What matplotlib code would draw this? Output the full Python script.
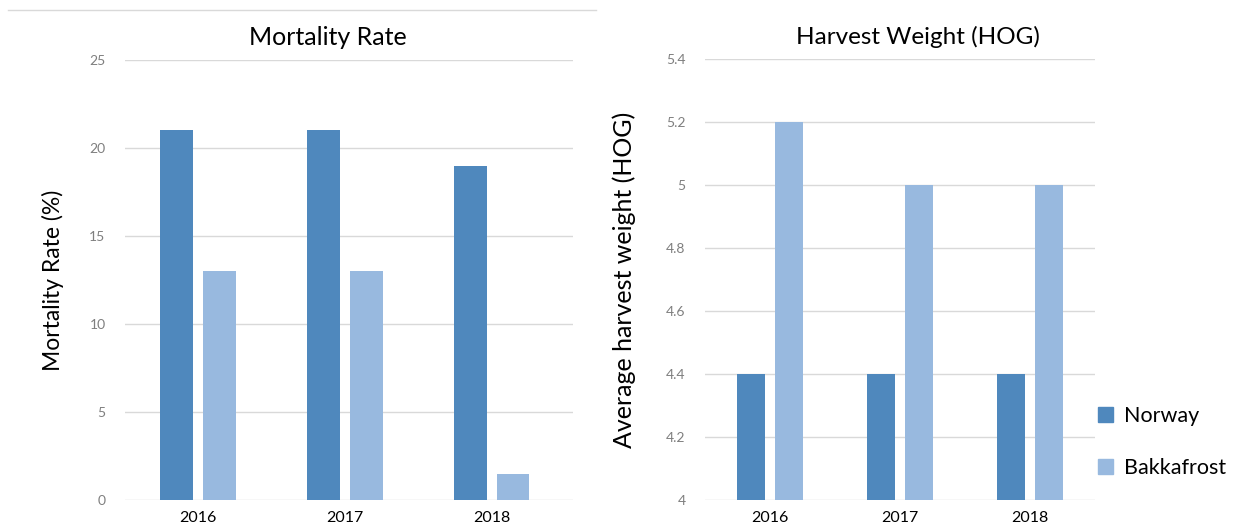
import numpy as np
import matplotlib.pyplot as plt
from matplotlib.patches import Patch
from matplotlib.lines import Line2D

# --- data ---
years = ['2016', '2017', '2018']
mortality_norway = [21, 21, 19]
mortality_bakkafrost = [13, 13, 1.5]
weight_norway = [4.4, 4.4, 4.4]
weight_bakkafrost = [5.2, 5.0, 5.0]

NORWAY = '#4F88BD'
BAKKA = '#98B9DF'
GRID = '#D9D9D9'
FONT = ['Lato', 'DejaVu Sans']

plt.rcParams['font.family'] = FONT

fig = plt.figure(figsize=(12.41, 5.31), dpi=100, facecolor='white')
W, H = 1241, 531


def px_axes(x0, x1, y_top, y_bot):
    return fig.add_axes([x0 / W, 1 - y_bot / H, (x1 - x0) / W, (y_bot - y_top) / H])


def style(ax, ymin, ymax, step, fmt, xlim):
    ticks = np.arange(ymin, ymax + step / 2, step)
    ax.set_ylim(ymin, ymax)
    ax.set_yticks(ticks)
    ax.set_yticklabels([fmt(t) for t in ticks], color='#7F7F7F', fontsize=10)
    ax.grid(axis='y', color=GRID, linewidth=1)
    ax.set_axisbelow(True)
    for s in ax.spines.values():
        s.set_visible(False)
    ax.tick_params(length=0, pad=14)
    ax.tick_params(axis='x', pad=8, labelsize=11.5, labelcolor='#000000')
    ax.set_xlim(*xlim)
    ax.set_xticks(range(len(years)))
    ax.set_xticklabels(years)


x = np.arange(len(years))

# left panel: mortality
ax1 = px_axes(125, 573, 60, 500)
ax1.bar(x - 0.146, mortality_norway, 0.224, color=NORWAY)
ax1.bar(x + 0.143, mortality_bakkafrost, 0.224, color=BAKKA)
style(ax1, 0, 25, 5, lambda t: f'{t:g}', (-0.497, 2.551))
ax1.set_ylabel('Mortality Rate (%)', fontsize=16.5, labelpad=18)
fig.text(328 / W, 1 - 37 / H, 'Mortality Rate', fontsize=18, ha='center', va='center')

# right panel: harvest weight
ax2 = px_axes(705, 1095, 59, 500)
ax2.bar(x - 0.145, np.array(weight_norway) - 4, 0.22, bottom=4, color=NORWAY)
ax2.bar(x + 0.145, np.array(weight_bakkafrost) - 4, 0.22, bottom=4, color=BAKKA)
style(ax2, 4, 5.4, 0.2, lambda t: f'{round(t, 1):g}', (-0.5, 2.5))
ax2.set_ylabel('Average harvest weight (HOG)', fontsize=18, labelpad=22)
fig.text(918 / W, 1 - 37 / H, 'Harvest Weight (HOG)', fontsize=17.5, ha='center', va='center')

handles = [Patch(color=NORWAY, label='Norway'), Patch(color=BAKKA, label='Bakkafrost')]
fig.legend(handles=handles, loc='center left', bbox_to_anchor=(1079 / W, 1 - 442 / H),
           frameon=False, fontsize=15.5, handlelength=0.7, handleheight=0.7,
           handletextpad=0.5, labelspacing=1.5)

# faint border line at the top of the left chart
fig.add_artist(Line2D([8 / W, 596 / W], [1 - 10 / H, 1 - 10 / H], color=GRID, linewidth=1))

fig.savefig('out.png', dpi=100, facecolor='white')
